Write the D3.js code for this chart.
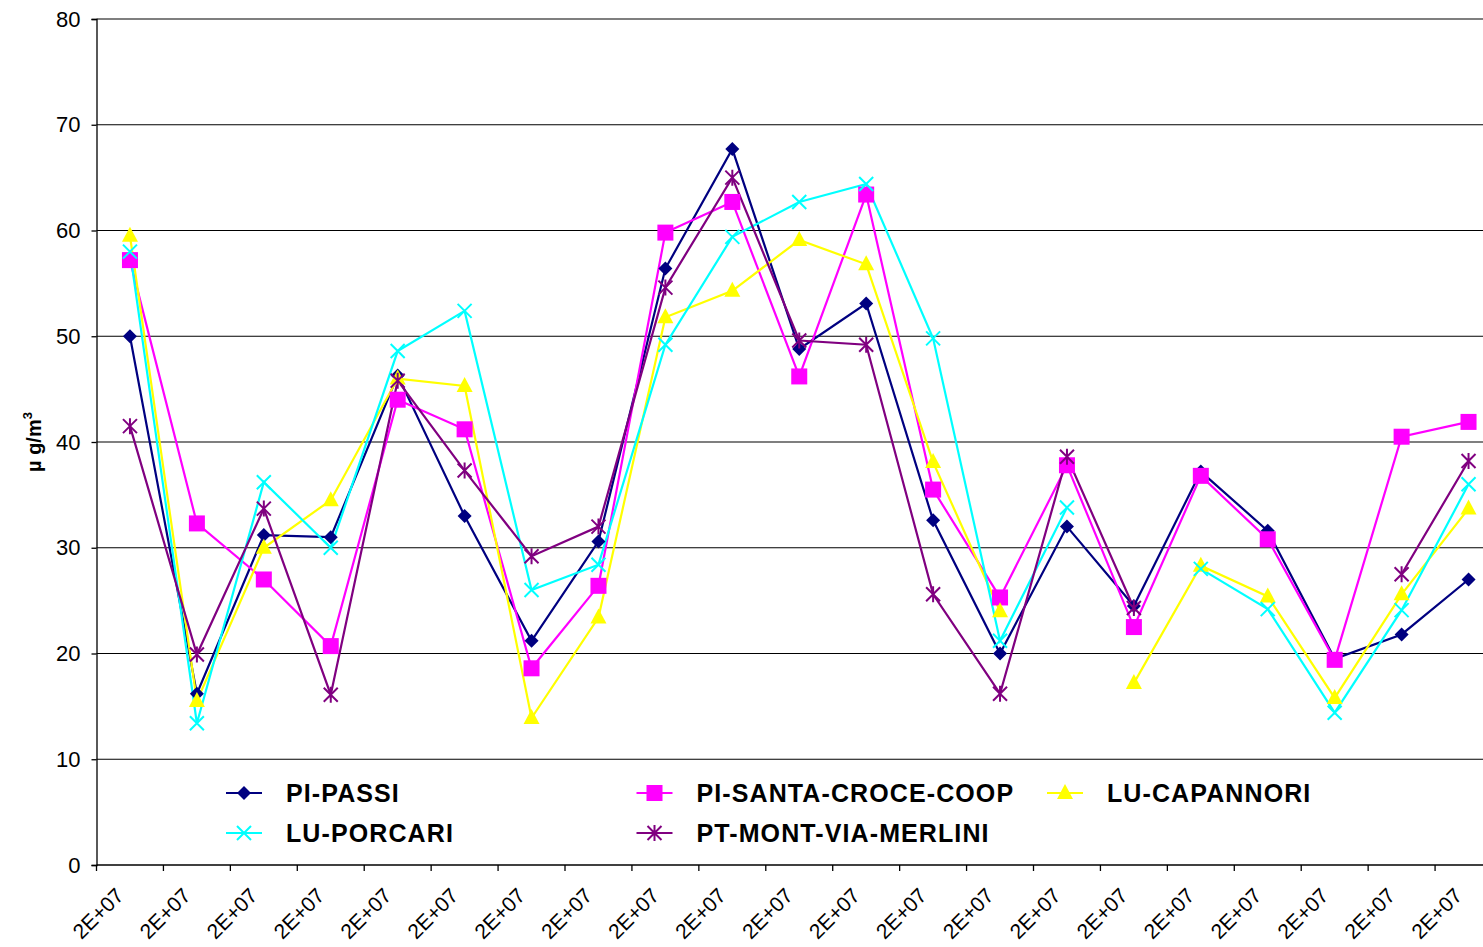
<!DOCTYPE html>
<html>
<head>
<meta charset="utf-8">
<script src="https://cdn.jsdelivr.net/npm/d3@7"></script>
<style>
  body { margin: 0; background: #fff; }
  svg { display: block; font-family: Arial, "Liberation Sans", sans-serif; }
</style>
</head>
<body>
<div id="chart"></div>
<script>
// 21 periods, all labelled "2E+07" on the original axis
const categories = d3.range(1, 22);
const tickLabel = "2E+07";
const yTicks = [0, 10, 20, 30, 40, 50, 60, 70, 80];

const piPassi =      [50.0, 16.2, 31.2, 31.0, 46.3, 33.0, 21.2, 30.6, 56.4, 67.7, 48.8, 53.1, 32.6, 20.0, 32.0, 24.5, 37.2, 31.6, 19.5, 21.8, 27.0];
const piSantaCroce = [57.2, 32.3, 27.0, 20.7, 44.0, 41.2, 18.6, 26.4, 59.8, 62.7, 46.2, 63.4, 35.5, 25.3, 37.8, 22.5, 36.8, 30.8, 19.4, 40.5, 41.9];
const luCapannori =  [59.5, 15.5, 30.0, 34.5, 46.0, 45.3, 13.9, 23.4, 51.8, 54.3, 59.1, 56.8, 38.1, 24.0, null, 17.2, 28.3, 25.4, 15.8, 25.6, 33.7];
const luPorcari =    [58.0, 13.4, 36.2, 30.0, 48.6, 52.4, 26.0, 28.4, 49.2, 59.4, 62.7, 64.4, 49.8, 21.2, 33.8, null, 28.0, 24.2, 14.4, 24.1, 36.0];
const ptMerlini =    [41.5, 19.9, 33.7, 16.1, 45.8, 37.3, 29.2, 32.0, 54.6, 65.0, 49.6, 49.2, 25.6, 16.2, 38.6, 24.3, null, null, null, 27.5, 38.2];

const series = [
  { name: "PI-PASSI", values: piPassi, color: "#000080", marker: "diamond" },
  { name: "PI-SANTA-CROCE-COOP", values: piSantaCroce, color: "#FF00FF", marker: "square" },
  { name: "LU-CAPANNORI", values: luCapannori, color: "#FFFF00", marker: "triangle" },
  { name: "LU-PORCARI", values: luPorcari, color: "#00FFFF", marker: "x" },
  { name: "PT-MONT-VIA-MERLINI", values: ptMerlini, color: "#800080", marker: "star" }
];

const W = 1483, H = 947;
const margin = { top: 19, left: 96.5, bottom: 82 };
const plotRight = 1502; // plot runs past the picture's right edge

const svg = d3.select("#chart").append("svg")
  .attr("width", W)
  .attr("height", H);

const x = d3.scaleBand()
  .domain(categories)
  .range([margin.left, plotRight])
  .padding(0);

const y = d3.scaleLinear()
  .domain([0, 80])
  .range([H - margin.bottom, margin.top]);

const cx = d => x(d) + x.bandwidth() / 2;

// gridlines
svg.append("g")
  .selectAll("line")
  .data(yTicks.filter(t => t > 0))
  .enter()
  .append("line")
  .attr("x1", margin.left)
  .attr("x2", plotRight)
  .attr("y1", d => y(d))
  .attr("y2", d => y(d))
  .attr("stroke", "#000")
  .attr("stroke-width", 1.2);

// Y axis
const yAxis = svg.append("g")
  .attr("transform", `translate(${margin.left},0)`)
  .call(d3.axisLeft(y).tickValues(yTicks).tickSize(5).tickPadding(11));
yAxis.select(".domain").attr("stroke", "#000").attr("stroke-width", 1.3);
yAxis.selectAll(".tick line").attr("stroke", "#000").attr("stroke-width", 1.3);
yAxis.selectAll("text")
  .attr("font-size", 22)
  .attr("font-family", "Arial, 'Liberation Sans', sans-serif")
  .attr("fill", "#000");

// X axis: ticks on band edges, labels at band centres
const xg = svg.append("g");
xg.append("line")
  .attr("x1", margin.left).attr("x2", plotRight)
  .attr("y1", y(0)).attr("y2", y(0))
  .attr("stroke", "#000").attr("stroke-width", 1.3);
xg.selectAll("line.tick")
  .data(categories)
  .enter()
  .append("line")
  .attr("class", "tick")
  .attr("x1", d => x(d)).attr("x2", d => x(d))
  .attr("y1", y(0)).attr("y2", y(0) + 6)
  .attr("stroke", "#000").attr("stroke-width", 1.3);
xg.selectAll("text")
  .data(categories)
  .enter()
  .append("text")
  .attr("transform", d => `translate(${cx(d) - 5},${y(0) + 32}) rotate(-45)`)
  .attr("text-anchor", "end")
  .attr("font-size", 21)
  .attr("fill", "#000")
  .text(tickLabel);

// Y title
const yTitle = svg.append("text")
  .attr("transform", `translate(41,${(y(0) + y(80)) / 2}) rotate(-90)`)
  .attr("text-anchor", "middle")
  .attr("font-size", 20)
  .attr("font-weight", "bold")
  .attr("fill", "#000");
yTitle.append("tspan").text("µ g/m");
yTitle.append("tspan").attr("font-size", 13).attr("dy", -9).text("3");

// marker drawing
function drawMarker(g, type, color) {
  if (type === "diamond") {
    g.append("path").attr("d", "M0,-7L7,0L0,7L-7,0Z").attr("fill", color);
  } else if (type === "square") {
    g.append("rect").attr("x", -8).attr("y", -8).attr("width", 16).attr("height", 16).attr("fill", color);
  } else if (type === "triangle") {
    g.append("path").attr("d", "M0,-9L8,6L-8,6Z").attr("fill", color);
  } else if (type === "x") {
    g.append("path").attr("d", "M-7,-7L7,7M-7,7L7,-7").attr("stroke", color).attr("stroke-width", 2).attr("fill", "none");
  } else if (type === "star") {
    g.append("path").attr("d", "M-7,-7L7,7M-7,7L7,-7M0,-8L0,8").attr("stroke", color).attr("stroke-width", 2).attr("fill", "none");
  }
}

const line = d3.line()
  .defined(d => d.v !== null)
  .x(d => cx(d.c))
  .y(d => y(d.v));

series.forEach(s => {
  const pts = categories.map((c, i) => ({ c, v: s.values[i] }));
  svg.append("path")
    .datum(pts)
    .attr("d", line)
    .attr("fill", "none")
    .attr("stroke", s.color)
    .attr("stroke-width", 2.2);
});

series.forEach(s => {
  const pts = categories.map((c, i) => ({ c, v: s.values[i] })).filter(d => d.v !== null);
  pts.forEach(d => {
    const g = svg.append("g").attr("transform", `translate(${cx(d.c)},${y(d.v)})`);
    drawMarker(g, s.marker, s.color);
  });
});

// Legend
const legendCols = [226, 636.5, 1047];
const legendRows = [793, 833];
series.forEach((s, i) => {
  const col = i < 3 ? i : i - 3;
  const row = i < 3 ? 0 : 1;
  const g = svg.append("g").attr("transform", `translate(${legendCols[col]},${legendRows[row]})`);
  g.append("line").attr("x1", 0).attr("x2", 36).attr("y1", 0).attr("y2", 0)
    .attr("stroke", s.color).attr("stroke-width", 2.2);
  const m = g.append("g").attr("transform", "translate(18,0)");
  drawMarker(m, s.marker, s.color);
  g.append("text")
    .attr("x", 60)
    .attr("y", 9)
    .attr("font-size", 25)
    .attr("font-weight", "bold")
    .attr("letter-spacing", 1.1)
    .attr("fill", "#000")
    .text(s.name);
});
</script>
</body>
</html>
